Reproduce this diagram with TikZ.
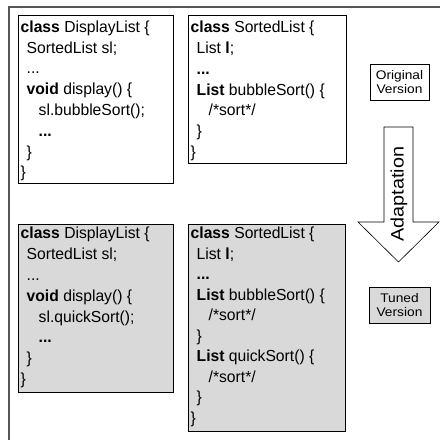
\documentclass[tikz,border=0pt]{standalone}
\usepackage{fontspec}
\setmainfont{Liberation Sans}[FakeStretch=0.98]
\newfontfamily\labelfont{Liberation Sans}[FakeStretch=1.1]
\definecolor{tunedgray}{HTML}{D9D9D9}
\definecolor{framegray}{HTML}{555555}
\tikzset{
  codebox/.style={draw=black, line width=0.8pt, anchor=north west, inner sep=0pt},
  codetext/.style={anchor=north west, align=left, inner sep=0pt,
    font=\fontsize{16}{20.8}\selectfont},
  tuned/.style={fill=tunedgray},
  versionbox/.style={draw=black, line width=0.8pt, align=center, inner sep=0pt,
    font=\labelfont\fontsize{12.5}{13.5}\selectfont},
}
\newcommand{\ind}{\hspace*{6pt}}
\newcommand{\indd}{\hspace*{18pt}}
\begin{document}
\begin{tikzpicture}[x=1pt,y=-1pt]
  \useasboundingbox (0,0) rectangle (440,440);
  % outer frame
  \draw[framegray, line width=1.3pt] (9,440) -- (9,7) -- (440,7);

  % original version
  \node[codebox, minimum width=155pt, minimum height=168pt] (origdisplay) at (18,15) {};
  \node[codetext] (origdisplaytext) at (20.5,20.5) {\textbf{class} DisplayList \{\\
    \ind SortedList sl;\\
    \ind ...\\
    \ind \textbf{void} display() \{\\
    \indd sl.bubbleSort();\\
    \indd \textbf{...}\\
    \ind \}\\
    \}};
  \node[codebox, minimum width=158pt, minimum height=148pt] (origsorted) at (188,15) {};
  \node[codetext] (origsortedtext) at (190.5,21) {\textbf{class} SortedList \{\\
    \ind List \textbf{l};\\
    \ind \textbf{...}\\
    \ind \textbf{List} bubbleSort() \{\\
    \indd /*sort*/\\
    \ind \}\\
    \}};
  \node[versionbox, minimum width=59pt, minimum height=36pt] (origversion) at (399.5,82) {Original\\Version};

  % adaptation arrow
  \draw[line width=0.6pt] (384,127) -- (413,127) -- (413,222) -- (439,222)
    -- (398.5,262) -- (358,222) -- (384,222) -- cycle;
  \node[rotate=90, font=\labelfont\fontsize{18}{20}\selectfont] (adaptlabel) at (399,194) {Adaptation};

  % tuned version
  \node[codebox, tuned, minimum width=155pt, minimum height=168pt] (tuneddisplay) at (18,224) {};
  \node[codetext] (tuneddisplaytext) at (20.5,227) {\textbf{class} DisplayList \{\\
    \ind SortedList sl;\\
    \ind ...\\
    \ind \textbf{void} display() \{\\
    \indd sl.quickSort();\\
    \indd \textbf{...}\\
    \ind \}\\
    \}};
  \node[codebox, tuned, minimum width=157pt, minimum height=207pt] (tunedsorted) at (188,224) {};
  \node[codetext, font=\fontsize{16}{20.5}\selectfont] (tunedsortedtext) at (190.5,227) {\textbf{class} SortedList \{\\
    \ind List \textbf{l};\\
    \ind \textbf{...}\\
    \ind \textbf{List} bubbleSort() \{\\
    \indd /*sort*/\\
    \ind \}\\
    \ind \textbf{List} quickSort() \{\\
    \indd /*sort*/\\
    \ind \}\\
    \}};
  \node[versionbox, tuned, minimum width=61pt, minimum height=36pt] (tunedversion) at (399.5,305) {Tuned\\Version};
\end{tikzpicture}
\end{document}
